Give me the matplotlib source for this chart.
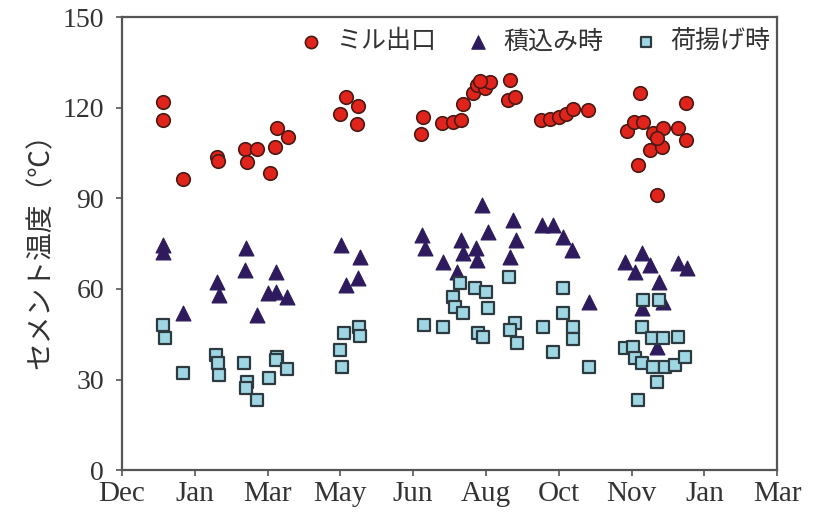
import matplotlib
matplotlib.use("Agg")
import matplotlib.pyplot as plt

plt.rcParams['font.family'] = ['Noto Sans CJK JP', 'DejaVu Sans']

# x positions are in units of the (evenly spaced) month ticks
month_labels = ['Dec', 'Jan', 'Mar', 'May', 'Jun', 'Aug', 'Oct', 'Nov', 'Jan', 'Mar']

mill_x = [0.56, 0.56, 0.84, 1.30, 1.32, 1.69, 1.85, 1.72, 2.13, 2.28, 2.10, 2.03,
          3.08, 3.24, 2.99, 3.23,
          4.13, 4.11, 4.40, 4.55, 4.65, 4.68, 4.82, 4.88, 4.98, 5.05, 4.92,
          5.33, 5.30, 5.40, 5.75, 5.88, 6.00, 6.10, 6.20, 6.40,
          7.12, 7.75, 6.93, 7.03, 7.16, 7.30, 7.43, 7.64, 7.75, 7.25, 7.42, 7.35,
          7.09, 7.35]
mill_y = [121.9, 115.9, 96.4, 103.8, 102.3, 106.3, 106.3, 102.0, 113.2, 110.3, 107.0, 98.3,
          123.5, 120.5, 117.9, 114.6,
          116.9, 111.3, 114.9, 115.2, 115.9, 121.2, 125.0, 127.5, 126.5, 128.5, 129.0,
          129.1, 122.5, 123.5, 116.0, 116.2, 117.0, 118.0, 119.5, 119.2,
          124.8, 121.5, 112.3, 115.2, 115.2, 111.6, 113.2, 113.2, 109.3, 106.0, 107.0, 110.0,
          101.0, 91.1]

load_x = [0.56, 0.56, 0.84, 1.30, 1.33, 1.70, 1.69, 2.12, 2.01, 2.12, 2.27, 1.85,
          3.01, 3.27, 3.24, 3.08,
          4.12, 4.16, 4.41, 4.60, 4.66, 4.68, 4.86, 4.88, 5.03, 4.95,
          5.37, 5.41, 5.33, 5.77, 5.92, 6.06, 6.18, 6.41,
          6.91, 7.14, 7.05, 7.25, 7.64, 7.76, 7.38, 7.43, 7.14, 7.35]
load_y = [74.5, 72.2, 52.0, 62.3, 58.0, 73.5, 66.2, 65.6, 58.6, 59.0, 57.3, 51.3,
          74.5, 70.5, 63.6, 61.3,
          77.8, 73.5, 68.9, 65.6, 76.2, 71.8, 73.5, 69.5, 78.8, 87.7,
          82.8, 76.2, 70.5, 81.1, 81.1, 77.2, 72.8, 55.6,
          68.9, 71.8, 65.6, 67.9, 68.5, 66.9, 62.3, 55.6, 53.6, 40.7]

unload_x = [0.56, 0.59, 0.84, 1.29, 1.32, 1.33, 1.68, 1.72, 1.70, 1.85, 2.02, 2.13, 2.11, 2.27,
            3.05, 3.26, 3.27, 2.99, 3.02,
            4.15, 4.41, 4.64, 4.55, 4.57, 4.68, 4.85, 5.00, 5.03, 4.89, 4.96,
            5.32, 5.40, 5.33, 5.42, 5.78, 6.06, 6.06, 6.19, 6.19, 5.92, 6.41,
            7.16, 7.38, 7.14, 7.28, 7.43, 7.64, 6.91, 7.02, 7.05, 7.14, 7.29, 7.46,
            7.60, 7.73, 7.35, 7.09]
unload_y = [48.0, 43.7, 32.1, 38.1, 35.4, 31.5, 35.4, 29.1, 27.2, 23.2, 30.5, 37.4, 36.4, 33.4,
            45.4, 47.3, 44.4, 39.7, 34.1,
            48.0, 47.3, 61.9, 57.3, 54.0, 52.0, 60.3, 59.0, 53.6, 45.4, 44.0,
            63.9, 48.7, 46.4, 42.1, 47.3, 60.3, 52.0, 47.3, 43.4, 39.1, 34.1,
            56.3, 56.3, 47.4, 43.7, 43.7, 44.0, 40.4, 40.7, 37.1, 35.4, 34.1, 34.1,
            34.8, 37.4, 29.1, 23.2]

fig = plt.figure(figsize=(8.13, 5.19), dpi=100)
ax = fig.add_axes([0.150, 0.094, 0.806, 0.873])

ax.scatter(load_x, load_y, s=115, marker='^', c='#2e1b5e', edgecolors='#2e1b5e',
           linewidths=0.8, zorder=3, label='積込み時')
ax.scatter(unload_x, unload_y, s=70, marker='s', c='#9fd6e3', edgecolors='#2d3a40',
           linewidths=1.6, zorder=4, label='荷揚げ時')
ax.scatter(mill_x, mill_y, s=95, marker='o', c='#e0241c', edgecolors='#4a1a14',
           linewidths=1.2, zorder=5, label='ミル出口')

ax.set_xlim(0, 9)
ax.set_ylim(0, 150)
ax.set_xticks(range(len(month_labels)))
ax.set_xticklabels(month_labels)
ax.set_yticks([0, 30, 60, 90, 120, 150])
for lab in ax.get_yticklabels():
    lab.set_family('Liberation Serif')
    lab.set_fontsize(20)
    lab.set_color('#333333')
for lab in ax.get_xticklabels():
    lab.set_family('Liberation Serif')
    lab.set_fontsize(21)
    lab.set_color('#333333')
ax.tick_params(direction='out', length=4, width=1.2, color='#555555')
ax.tick_params(axis='x', pad=4)
ax.tick_params(axis='y', pad=9)
for sp in ax.spines.values():
    sp.set_color('#555555')
    sp.set_linewidth(1.6)

ax.set_ylabel('セメント温度（℃）', fontsize=20, color='#333333', labelpad=5)

handles, labels = ax.get_legend_handles_labels()
order = [2, 0, 1]
leg = ax.legend([handles[i] for i in order], [labels[i] for i in order],
                loc='upper center', bbox_to_anchor=(0.62, 1.025), ncol=3, frameon=False,
                fontsize=18, handletextpad=0.0, columnspacing=0.7, markerscale=0.9)
for t in leg.get_texts():
    t.set_color('#333333')

fig.savefig('out.png', dpi=100)
